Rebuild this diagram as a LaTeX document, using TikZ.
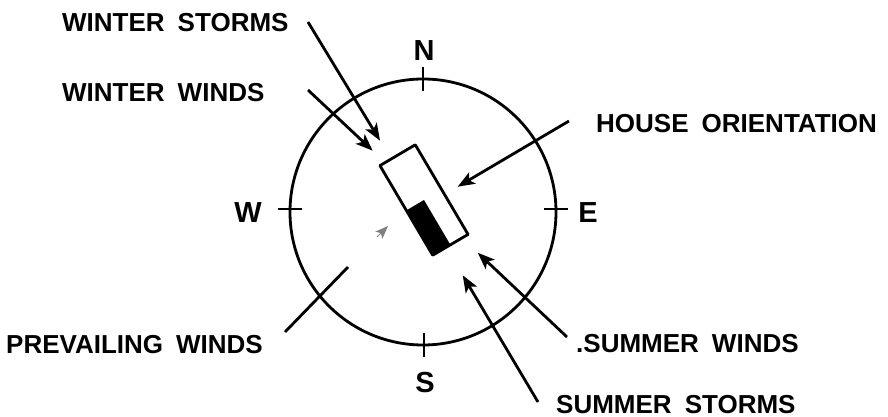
\documentclass[tikz,border=0pt]{standalone}
\usepackage{fontspec}
\setmainfont{Liberation Sans}[WordSpace=1.8]
\usetikzlibrary{arrows.meta}
\begin{document}
\begin{tikzpicture}[x=1pt,y=-1pt,
  lbl/.style={font=\bfseries\fontsize{26}{26}\selectfont, inner sep=0pt, anchor=base west},
  dirlbl/.style={font=\bfseries\fontsize{29}{29}\selectfont, inner sep=0pt, anchor=base},
  ln/.style={line width=2.8pt},
  arr/.style={ln, -{Stealth[length=17pt,width=13pt,inset=4pt]}}]
\useasboundingbox (0,0) rectangle (888,417);
% compass circle
\node[draw, circle, ln, minimum size=266pt, inner sep=0pt, outer sep=0pt] (compass) at (423,212) {};
\draw[ln] (compass.north) ++(0,-12) -- ++(0,24);
\draw[ln] (compass.south) ++(1,-12) -- ++(0,24);
\draw[ln] (compass.west) ++(-12,-3) -- ++(24,0);
\draw[ln] (compass.east) ++(-12,-3) -- ++(24,0);
\node[dirlbl] (N) at (424,61) {N};
\node[dirlbl] (S) at (425,392) {S};
\node[dirlbl] (W) at (248,222) {W};
\node[dirlbl] (E) at (588,222) {E};
% house
\node[draw, ln, rotate=30.5, minimum width=41pt, minimum height=104pt, inner sep=0pt, outer sep=0pt, line join=round] (house) at (424,200) {};
\fill (house.south west) -- (house.west) -- (house.center) -- (house.south) -- cycle;
% labels
\node[lbl] (wstorms) at (62,31.5) {WINTER STORMS};
\node[lbl] (wwinds) at (62,101.5) {WINTER WINDS};
\node[lbl] (prev) at (6,353) {PREVAILING WINDS};
\node[lbl] (horient) at (596,132) {HOUSE ORIENTATION};
\node[lbl] (swinds) at (576,352) {.SUMMER WINDS};
\node[lbl] (sstorms) at (556,413) {SUMMER STORMS};
% arrow ends
\coordinate (wsA) at (308,22);   \coordinate (wsB) at (380,140.7);
\coordinate (wwA) at (308,90);   \coordinate (wwB) at (372.7,150.7);
\coordinate (hoA) at (569,121);  \coordinate (hoB) at (457.7,186.7);
\coordinate (swA) at (567,337);  \coordinate (swB) at (477.7,252.7);
\coordinate (ssA) at (538,402);  \coordinate (ssB) at (462.7,275.3);
\coordinate (pwA) at (285,332);  \coordinate (pwB) at (348,267);
\coordinate (pwC) at (377,237);  \coordinate (pwD) at (388,226);
\draw[arr] (wsA) -- (wsB);
\draw[arr] (wwA) -- (wwB);
\draw[arr] (hoA) -- (hoB);
\draw[arr] (swA) -- (swB);
\draw[arr] (ssA) -- (ssB);
\draw[ln] (pwA) -- (pwB);
\draw[gray, line width=1pt, -{Stealth[length=13pt,width=10pt,inset=3pt]}] (pwC) -- (pwD);
\end{tikzpicture}
\end{document}
